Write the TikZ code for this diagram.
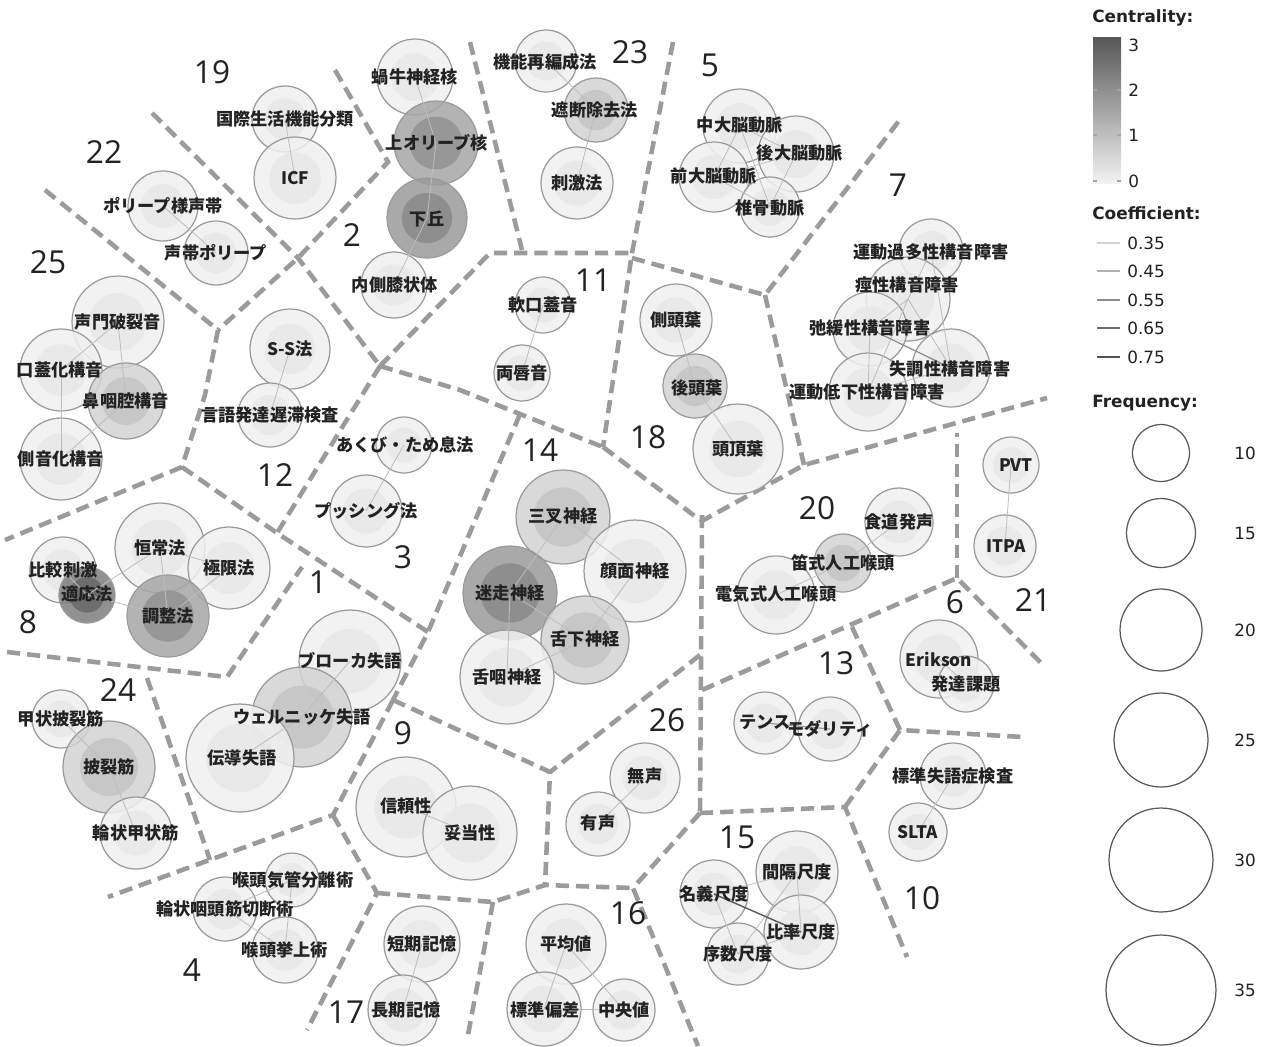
\documentclass[tikz,border=0pt]{standalone}
\usepackage{fontspec}
\newfontfamily\jpf{Noto Sans CJK JP}
\newfontfamily\numf{Open Sans}
\newfontfamily\legf{DejaVu Sans}
\definecolor{bndc}{HTML}{9B9B9B}
\definecolor{bline}{HTML}{9A9A9A}
\definecolor{edgec}{HTML}{BDBDBD}
\definecolor{txt}{HTML}{222222}
\definecolor{oA}{HTML}{F0F0F0}\definecolor{iA}{HTML}{E8E8E8}
\definecolor{oB}{HTML}{D3D3D3}\definecolor{iB}{HTML}{C4C4C4}
\definecolor{oC}{HTML}{A6A6A6}\definecolor{iC}{HTML}{939393}
\definecolor{oD}{HTML}{9B9B9B}\definecolor{iD}{HTML}{8A8A8A}
\definecolor{oE}{HTML}{7E7E7E}\definecolor{iE}{HTML}{686868}
\tikzset{
  bubble/.style={circle, draw=bline, line width=0.7pt, fill opacity=0.85, inner sep=0pt, outer sep=0pt},
  lbl/.style={font=\jpf\bfseries\fontsize{9.8}{10}\selectfont, text=txt, inner sep=0pt},
  cnum/.style={font=\numf\fontsize{18}{18}\selectfont, text=txt, inner sep=0pt},
  bnd/.style={draw=bndc, line width=2.6pt, dash pattern=on 7.5pt off 4pt},
  edge/.style={draw=edgec, line width=0.45pt},
  dedge/.style={draw=black!65, line width=0.8pt},
  legt/.style={font=\legf\fontsize{9.6}{10}\selectfont, text=txt, inner sep=0pt, anchor=west},
  legh/.style={font=\legf\bfseries\fontsize{9.6}{10}\selectfont, text=txt, inner sep=0pt, anchor=west},
  fcirc/.style={circle, draw=black!65, line width=0.7pt, inner sep=0pt},
}
\newcommand\bub[6]{%
  \node[bubble, fill=#5, minimum size={#4*0.04cm}] (#1) at (#2,#3) {};
  \fill[#6, fill opacity=0.85] (#1.center) circle[radius={#4*0.0126cm}];
}
\begin{document}
\begin{tikzpicture}[x=0.02cm,y=-0.02cm]
\useasboundingbox (0,0) rectangle (1264,1046);
\fill[white] (0,0) rectangle (1264,1046);

% ---------- boundaries ----------
\draw[bnd] (335,70) -- (388,162) -- (298,258) -- (218,330);
\draw[bnd] (152,113) -- (298,258) -- (380,366);
\draw[bnd] (45,190) -- (218,330) -- (205,395) -- (182,467);
\draw[bnd] (182,467) -- (5,540);
\draw[bnd] (182,467) -- (277,533) -- (428,632);
\draw[bnd] (380,366) -- (277,533);
\draw[bnd] (380,366) -- (490,253) -- (632,253);
\draw[bnd] (470,42) -- (522,250);
\draw[bnd] (673,42) -- (632,253) -- (603,447);
\draw[bnd] (380,366) -- (460,390) -- (520,414) -- (603,447);
\draw[bnd] (520,414) -- (428,632) -- (393,700);
\draw[bnd] (603,447) -- (700,520);
\draw[bnd] (632,258) -- (765,295) -- (902,117);
\draw[bnd] (765,295) -- (804,465);
\draw[bnd] (700,522) -- (804,465) -- (1047,398);
\draw[bnd] (702,515) -- (700,813);
\draw[bnd] (700,655) -- (550,772);
\draw[bnd] (393,700) -- (550,772) -- (545,885);
\draw[bnd] (393,700) -- (333,815) -- (108,897);
\draw[bnd] (333,815) -- (377,893) -- (307,1030);
\draw[bnd] (377,893) -- (493,902) -- (545,885) -- (633,888);
\draw[bnd] (493,902) -- (467,1040);
\draw[bnd] (700,813) -- (633,888) -- (698,1046);
\draw[bnd] (700,813) -- (845,807) -- (907,957);
\draw[bnd] (845,807) -- (900,730) -- (1023,737);
\draw[bnd] (900,730) -- (852,627);
\draw[bnd] (702,690) -- (957,578) -- (1045,667);
\draw[bnd] (957,578) -- (957,433);
\draw[bnd] (7,652) -- (227,677) -- (302,567);
\draw[bnd] (147,678) -- (210,860);

% ---------- bubbles ----------
\bub{kagyu}{415}{77}{38}{oA}{iA}
\bub{joorib}{436}{143}{42}{oC}{iC}
\bub{kakyu}{427}{218}{40}{oD}{iD}
\bub{naisoku}{394}{285}{33}{oA}{iA}
\bub{kokusai}{285}{119}{33}{oA}{iA}
\bub{icf}{295}{178}{41}{oA}{iA}
\bub{polypa}{163}{206}{35}{oA}{iA}
\bub{polypb}{216}{253}{32}{oA}{iA}
\bub{seimon}{118}{322}{46}{oA}{iA}
\bub{kogai}{61}{370}{41}{oA}{iA}
\bub{bion}{126}{401}{38}{oB}{iB}
\bub{sokuon}{61}{459}{41}{oA}{iA}
\bub{ss}{290}{349}{40}{oA}{iA}
\bub{gengo}{270}{415}{32}{oA}{iA}
\bub{akubi}{404}{445}{28}{oA}{iA}
\bub{push}{366}{511}{36}{oA}{iA}
\bub{hikaku}{63}{570}{33}{oA}{iA}
\bub{kojo}{160}{548}{45}{oA}{iA}
\bub{kyokugen}{229}{568}{41}{oA}{iA}
\bub{tekio}{87}{595}{28}{oE}{iE}
\bub{chosei}{168}{616}{41}{oC}{iC}
\bub{broca}{350}{661}{51}{oA}{iA}
\bub{wernicke}{302}{717}{50}{oB}{iB}
\bub{dendo}{240}{758}{54}{oA}{iA}
\bub{kojohi}{61}{719}{29}{oA}{iA}
\bub{hiretsu}{109}{767}{46}{oB}{iB}
\bub{rinjo}{136}{833}{36}{oA}{iA}
\bub{shinrai}{406}{807}{50}{oA}{iA}
\bub{dato}{470}{833}{47}{oA}{iA}
\bub{koto}{292}{880}{27}{oA}{iA}
\bub{rinin}{225}{909}{32}{oA}{iA}
\bub{kyojo}{285}{950}{33}{oA}{iA}
\bub{tanki}{422}{944}{38}{oA}{iA}
\bub{choki}{403}{1010}{35}{oA}{iA}
\bub{heikin}{566}{944}{40}{oA}{iA}
\bub{hyojun}{544}{1009}{37}{oA}{iA}
\bub{chuo}{624}{1010}{31}{oA}{iA}
\bub{musei}{645}{778}{35}{oA}{iA}
\bub{yusei}{598}{824}{32}{oA}{iA}
\bub{kankaku}{797}{872}{41}{oA}{iA}
\bub{meigi}{714}{894}{34}{oA}{iA}
\bub{hiritsu}{801}{932}{37}{oA}{iA}
\bub{josu}{738}{954}{31}{oA}{iA}
\bub{hyojunsh}{953}{776}{33}{oA}{iA}
\bub{slta}{918}{832}{29}{oA}{iA}
\bub{tense}{765}{723}{31}{oA}{iA}
\bub{modality}{830}{729}{32}{oA}{iA}
\bub{erikson}{939}{659}{39}{oA}{iA}
\bub{hattatsu}{966}{684}{28}{oA}{iA}
\bub{pvt}{1011}{465}{28}{oA}{iA}
\bub{itpa}{1005}{546}{31}{oA}{iA}
\bub{shokudo}{899}{522}{34}{oA}{iA}
\bub{fue}{843}{563}{29}{oB}{iB}
\bub{denki}{776}{595}{39}{oA}{iA}
\bub{sansa}{563}{517}{47}{oB}{iB}
\bub{ganmen}{635}{571}{51}{oA}{iA}
\bub{meiso}{510}{593}{47}{oD}{iD}
\bub{zekka}{585}{640}{44}{oB}{iB}
\bub{zetsuin}{507}{677}{47}{oA}{iA}
\bub{sokuto}{676}{320}{36}{oA}{iA}
\bub{koto2}{695}{386}{32}{oB}{iB}
\bub{tocho}{738}{449}{45}{oA}{iA}
\bub{nanko}{543}{305}{28}{oA}{iA}
\bub{ryoshin}{522}{373}{28}{oA}{iA}
\bub{kino}{546}{61}{31}{oA}{iA}
\bub{shadan}{596}{110}{32}{oB}{iB}
\bub{shigeki}{577}{183}{36}{oA}{iA}
\bub{chudai}{740}{126}{37}{oA}{iA}
\bub{kodai}{796}{154}{38}{oA}{iA}
\bub{zendai}{714}{177}{35}{oA}{iA}
\bub{tsuikotsu}{770}{207}{30}{oA}{iA}
\bub{kata}{931}{251}{32}{oA}{iA}
\bub{keisei}{908}{299}{42}{oA}{iA}
\bub{shikan}{870}{329}{37}{oA}{iA}
\bub{shicho}{951}{368}{39}{oA}{iA}
\bub{teika}{868}{392}{39}{oA}{iA}

% ---------- edges ----------
\foreach \a/\b in {kagyu/joorib, joorib/kakyu, kakyu/naisoku, kokusai/icf, polypa/polypb,
  seimon/kogai, seimon/bion, kogai/sokuon, bion/sokuon, ss/gengo, akubi/push,
  hikaku/tekio, tekio/kojo, tekio/chosei, kojo/chosei, kojo/kyokugen, kyokugen/chosei,
  broca/wernicke, wernicke/dendo, kojohi/hiretsu, hiretsu/rinjo, shinrai/dato,
  koto/rinin, koto/kyojo, rinin/kyojo, tanki/choki, heikin/hyojun, heikin/chuo, hyojun/chuo,
  musei/yusei, meigi/kankaku, meigi/josu, kankaku/josu, kankaku/hiritsu, josu/hiritsu,
  hyojunsh/slta, tense/modality, erikson/hattatsu, pvt/itpa, shokudo/fue, fue/denki,
  sansa/meiso, sansa/ganmen, ganmen/zekka, meiso/zekka, meiso/zetsuin, zetsuin/zekka,
  sokuto/koto2, koto2/tocho, nanko/ryoshin, kino/shadan, shadan/shigeki,
  chudai/kodai, chudai/zendai, chudai/tsuikotsu, zendai/kodai, zendai/tsuikotsu, kodai/tsuikotsu,
  kata/keisei, kata/shicho, keisei/shikan, keisei/shicho, keisei/teika, shikan/teika, teika/shicho}
  {\draw[edge] (\a.center) -- (\b.center);}
\draw[dedge] (meigi.center) -- (hiritsu.center);
\draw[draw=black!45, line width=0.7pt] (shikan.center) -- (shicho.center);
\draw[draw=black!40, line width=0.6pt] (tense.center) -- (modality.center);

% ---------- labels ----------
\node[lbl] (t-kagyu) at (415,77) {蝸牛神経核};
\node[lbl] (t-joorib) at (437,143) {上オリーブ核};
\node[lbl] (t-kakyu) at (427,219) {下丘};
\node[lbl] (t-naisoku) at (395,285) {内側膝状体};
\node[lbl] (t-kokusai) at (285,119) {国際生活機能分類};
\node[lbl] (t-icf) at (295,178) {ICF};
\node[lbl] (t-polypa) at (163,206) {ポリープ様声帯};
\node[lbl] (t-polypb) at (216,253) {声帯ポリープ};
\node[lbl] (t-seimon) at (118,322) {声門破裂音};
\node[lbl] (t-kogai) at (60,370) {口蓋化構音};
\node[lbl] (t-bion) at (126,401) {鼻咽腔構音};
\node[lbl] (t-sokuon) at (61,459) {側音化構音};
\node[lbl] (t-ss) at (290,349) {S-S法};
\node[lbl] (t-gengo) at (270,415) {言語発達遅滞検査};
\node[lbl] (t-akubi) at (405,445) {あくび・ため息法};
\node[lbl] (t-push) at (366,511) {プッシング法};
\node[lbl] (t-hikaku) at (63,570) {比較刺激};
\node[lbl] (t-tekio) at (87,594) {適応法};
\node[lbl] (t-kojo) at (160,548) {恒常法};
\node[lbl] (t-kyokugen) at (229,568) {極限法};
\node[lbl] (t-chosei) at (168,616) {調整法};
\node[lbl] (t-broca) at (350,661) {ブローカ失語};
\node[lbl] (t-wernicke) at (302,717) {ウェルニッケ失語};
\node[lbl] (t-dendo) at (242,758) {伝導失語};
\node[lbl] (t-kojohi) at (61,719) {甲状披裂筋};
\node[lbl] (t-hiretsu) at (109,767) {披裂筋};
\node[lbl] (t-rinjo) at (136,833) {輪状甲状筋};
\node[lbl] (t-shinrai) at (406,806) {信頼性};
\node[lbl] (t-dato) at (470,833) {妥当性};
\node[lbl] (t-koto) at (293,880) {喉頭気管分離術};
\node[lbl] (t-rinin) at (225,909) {輪状咽頭筋切断術};
\node[lbl] (t-kyojo) at (285,950) {喉頭挙上術};
\node[lbl] (t-tanki) at (422,944) {短期記憶};
\node[lbl] (t-choki) at (406,1010) {長期記憶};
\node[lbl] (t-heikin) at (566,944) {平均値};
\node[lbl] (t-hyojun) at (545,1010) {標準偏差};
\node[lbl] (t-chuo) at (624,1010) {中央値};
\node[lbl] (t-musei) at (645,776) {無声};
\node[lbl] (t-yusei) at (598,823) {有声};
\node[lbl] (t-kankaku) at (797,872) {間隔尺度};
\node[lbl] (t-meigi) at (714,894) {名義尺度};
\node[lbl] (t-hiritsu) at (801,932) {比率尺度};
\node[lbl] (t-josu) at (738,954) {序数尺度};
\node[lbl] (t-hyojunsh) at (953,776) {標準失語症検査};
\node[lbl] (t-slta) at (918,832) {SLTA};
\node[lbl] (t-tense) at (765,722) {テンス};
\node[lbl] (t-modality) at (830,729) {モダリティ};
\node[lbl] (t-erikson) at (939,659) {Erikson};
\node[lbl] (t-hattatsu) at (966,684) {発達課題};
\node[lbl] (t-pvt) at (1016,465) {PVT};
\node[lbl] (t-itpa) at (1006,546) {ITPA};
\node[lbl] (t-shokudo) at (899,522) {食道発声};
\node[lbl] (t-fue) at (843,563) {笛式人工喉頭};
\node[lbl] (t-denki) at (776,594) {電気式人工喉頭};
\node[lbl] (t-sansa) at (563,516) {三叉神経};
\node[lbl] (t-ganmen) at (635,571) {顔面神経};
\node[lbl] (t-meiso) at (510,593) {迷走神経};
\node[lbl] (t-zekka) at (585,639) {舌下神経};
\node[lbl] (t-zetsuin) at (507,677) {舌咽神経};
\node[lbl] (t-sokuto) at (676,320) {側頭葉};
\node[lbl] (t-koto2) at (697,388) {後頭葉};
\node[lbl] (t-tocho) at (738,449) {頭頂葉};
\node[lbl] (t-nanko) at (543,305) {軟口蓋音};
\node[lbl] (t-ryoshin) at (522,373) {両唇音};
\node[lbl] (t-kino) at (545,62) {機能再編成法};
\node[lbl] (t-shadan) at (595,110) {遮断除去法};
\node[lbl] (t-shigeki) at (577,183) {刺激法};
\node[lbl] (t-chudai) at (740,125) {中大脳動脈};
\node[lbl] (t-kodai) at (800,153) {後大脳動脈};
\node[lbl] (t-zendai) at (714,176) {前大脳動脈};
\node[lbl] (t-tsuikotsu) at (770,208) {椎骨動脈};
\node[lbl] (t-kata) at (931,252) {運動過多性構音障害};
\node[lbl] (t-keisei) at (907,285) {痙性構音障害};
\node[lbl] (t-shikan) at (870,328) {弛緩性構音障害};
\node[lbl] (t-shicho) at (950,369) {失調性構音障害};
\node[lbl] (t-teika) at (867,392) {運動低下性構音障害};

% ---------- cluster numbers ----------
\foreach \n/\x/\y in {19/212/72, 22/104/152, 25/48/262, 2/352/235, 23/630/52, 5/710/65,
  7/898/185, 11/593/280, 18/648/437, 14/540/450, 12/275/475, 3/403/557, 1/318/582,
  8/28/622, 24/118/690, 9/403/733, 20/817/508, 6/955/602, 21/1033/600, 13/836/663,
  26/667/720, 15/737/837, 10/922/898, 16/628/913, 4/192/970, 17/346/1012}
  {\node[cnum] (c\n) at (\x,\y) {\n};}

% ---------- legend ----------
\node[legh] (lcent) at (1092,18) {Centrality:};
\shade[top color=black!66, bottom color=black!5] (1093,37) rectangle (1121,183);
\foreach \y in {90,135,181} {
  \draw[black!35, line width=0.6pt] (1093,\y) -- (1097,\y);
  \draw[black!35, line width=0.6pt] (1117,\y) -- (1121,\y);
}
\foreach \v/\y in {3/45, 2/90, 1/135, 0/181} {\node[legt] (lc\v) at (1128,\y) {\v};}
\node[legh] (lcoef) at (1092,213) {Coefficient:};
\foreach \v/\y/\c/\w in {35/243/18/0.6, 45/271/30/0.7, 55/300/45/0.8, 65/328/58/0.9, 75/357/68/1.0} {
  \draw[black!\c, line width=\w pt] (1097,\y) -- (1120,\y);
  \node[legt] (lk\v) at (1127,\y) {0.\v};
}
\node[legh] (lfreq) at (1092,403) {Frequency:};
\foreach \v/\y/\r in {10/453/28.5, 15/533/34.5, 20/630/41, 25/740/47, 30/860/52, 35/990/55} {
  \node[fcirc, minimum size={\r*0.04cm}] (lf\v) at (1161,\y) {};
  \node[legt, anchor=center] (lft\v) at (1245,\y) {\v};
}
\end{tikzpicture}
\end{document}
